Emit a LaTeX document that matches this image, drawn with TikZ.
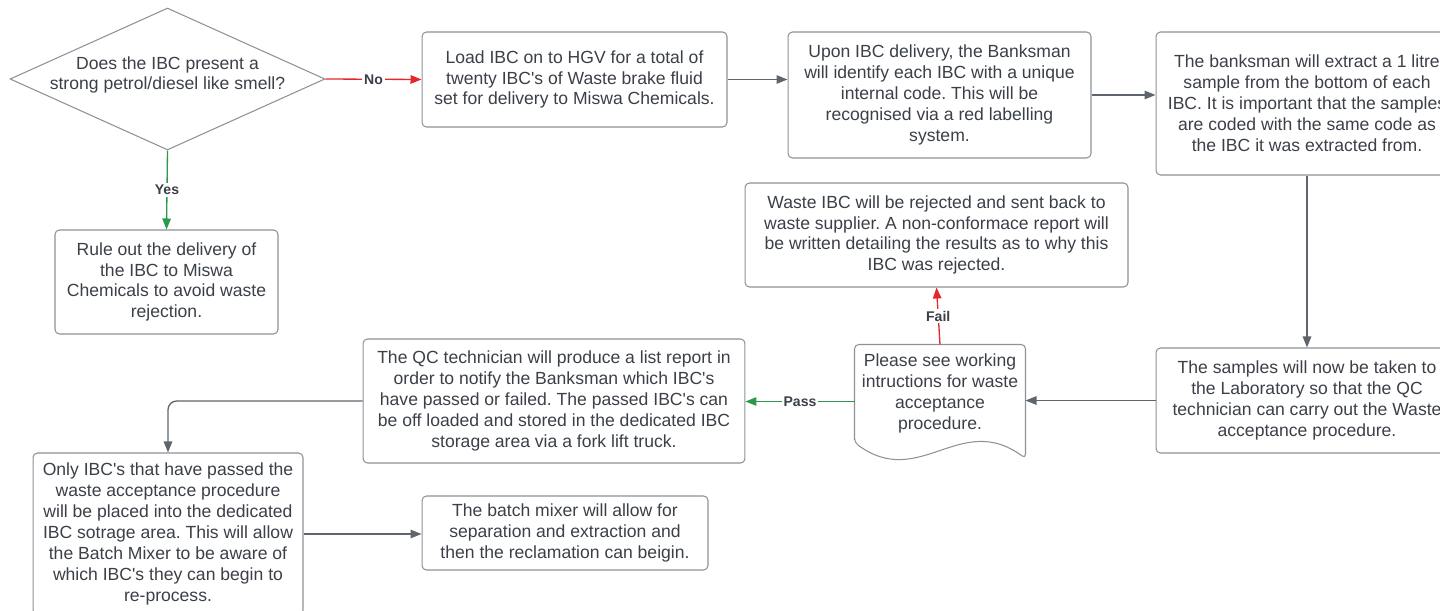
\documentclass[tikz,border=0pt]{standalone}
\usepackage{fontspec}
\setmainfont{Liberation Sans}[Ligatures=TeXOff]
\usepackage{xcolor}
\usetikzlibrary{shapes.geometric, arrows.meta, positioning, calc}

\definecolor{inkgray}{HTML}{3B4048}
\definecolor{edgegray}{HTML}{8C9299}
\definecolor{flowgray}{HTML}{5F656C}
\definecolor{nored}{HTML}{E5262B}
\definecolor{yesgreen}{HTML}{2A9A4A}

\frenchspacing

\begin{document}
\begin{tikzpicture}[
        x=0.02cm, y=-0.02cm,
        >={Triangle[length=0.22cm, width=0.17cm]},
        box/.style={rectangle, draw=edgegray, line width=0.6pt, fill=white, rounded corners=2.5pt, align=center, text=inkgray, font=\fontsize{10}{11.9}\selectfont, inner sep=0pt},
        decision/.style={diamond, draw=edgegray, line width=0.6pt, inner sep=0pt},
        flow/.style={->, draw=flowgray, line width=0.75pt},
        tag/.style={fill=white, inner sep=1pt, text=inkgray, font=\fontsize{8}{9}\selectfont\bfseries}
    ]
        \useasboundingbox (0,0) rectangle (1440,611);

        % Decision
        \node[decision, minimum width=6.3cm, minimum height=2.84cm] (q) at (167.5,79) {};
        \node[box, draw=none, fill=none] (qtext) at ($(q)+(0,-4)$) {Does the IBC present a\\strong petrol/diesel like smell?};

        % Top row
        \node[box, minimum width=6.1cm, minimum height=1.9cm] (load) at (574.5,79.5) {Load IBC on to HGV for a total of\\twenty IBC's of Waste brake fluid\\set for delivery to Miswa Chemicals.};
        \node[box, minimum width=6.06cm, minimum height=2.52cm] (upon) at (939.5,95) {Upon IBC delivery, the Banksman\\will identify each IBC with a unique\\internal code. This will be\\recognised via a red labelling\\system.};
        \node[box, minimum width=6.04cm, minimum height=2.86cm] (extract) at (1307,103.5) {The banksman will extract a 1 litre\\sample from the bottom of each\\IBC. It is important that the samples\\are coded with the same code as\\the IBC it was extracted from.};

        % Yes branch
        \node[box, minimum width=4.46cm, minimum height=2.08cm] (rule) at (166.5,282) {Rule out the delivery of\\the IBC to Miswa\\Chemicals to avoid waste\\rejection.};

        % Rejection
        \node[box, minimum width=7.66cm, minimum height=2.08cm] (waste) at (936.5,235) {Waste IBC will be rejected and sent back to\\waste supplier. A non-conformace report will\\be written detailing the results as to why this\\IBC was rejected.};

        % Middle row
        \node[box, minimum width=6.04cm, minimum height=2.1cm] (samples) at (1307,400.5) {The samples will now be taken to\\the Laboratory so that the QC\\technician can carry out the Waste\\acceptance procedure.};
        \node[box, draw=none, fill=none, minimum width=3.4cm, minimum height=2.26cm,
              label={[box, draw=none, fill=none, yshift=0.16cm]center:Please see working\\intructions for waste\\acceptance\\procedure.}] (doc) at (940,401.5) {};
        \draw[draw=edgegray, line width=0.6pt, rounded corners=2.5pt] ($(doc.south west)+(0,-16)$) -- (doc.north west) -- (doc.north east) -- (doc.south east)
            .. controls +(-65,-48) and +(65,48) .. ($(doc.south west)+(0,-16)$) -- cycle;
        \node[box, minimum width=7.64cm, minimum height=2.48cm] (qc) at (554,401) {The QC technician will produce a list report in\\order to notify the Banksman which IBC's\\have passed or failed. The passed IBC's can\\be off loaded and stored in the dedicated IBC\\storage area via a fork lift truck.};

        % Bottom row
        \node[box, minimum width=5.4cm, minimum height=3.24cm] (only) at (168,534) {Only IBC's that have passed the\\waste acceptance procedure\\will be placed into the dedicated\\IBC sotrage area. This will allow\\the Batch Mixer to be aware of\\which IBC's they can begin to\\re-process.};
        \node[box, minimum width=5.72cm, minimum height=1.48cm] (batch) at (565,533) {The batch mixer will allow for\\separation and extraction and\\then the reclamation can beigin.};

        % Connectors
        \draw[flow, draw=nored, -{Triangle[length=0.22cm, width=0.17cm, fill=nored]}] (q.east) -- (load.west) node[tag, midway] {No};
        \draw[flow, draw=yesgreen] (q.south) -- (rule.north) node[tag, midway] {Yes};
        \draw[flow] (load.east) -- (load.east -| upon.west);
        \draw[flow] (upon.east) -- (upon.east -| extract.west);
        \draw[flow] (extract.south) -- (samples.north);
        \draw[flow] (samples.west) -- (samples.west -| doc.east);
        \draw[flow, draw=nored] (doc.north) -- (waste.south) node[tag, midway] {Fail};
        \draw[flow, draw=yesgreen] (doc.west) -- (doc.west -| qc.east) node[tag, midway] {Pass};
        \draw[flow, rounded corners=5pt] (qc.west) -| (only.north);
        \draw[flow] (only.east) -- (only.east -| batch.west);

    \end{tikzpicture}
\end{document}
